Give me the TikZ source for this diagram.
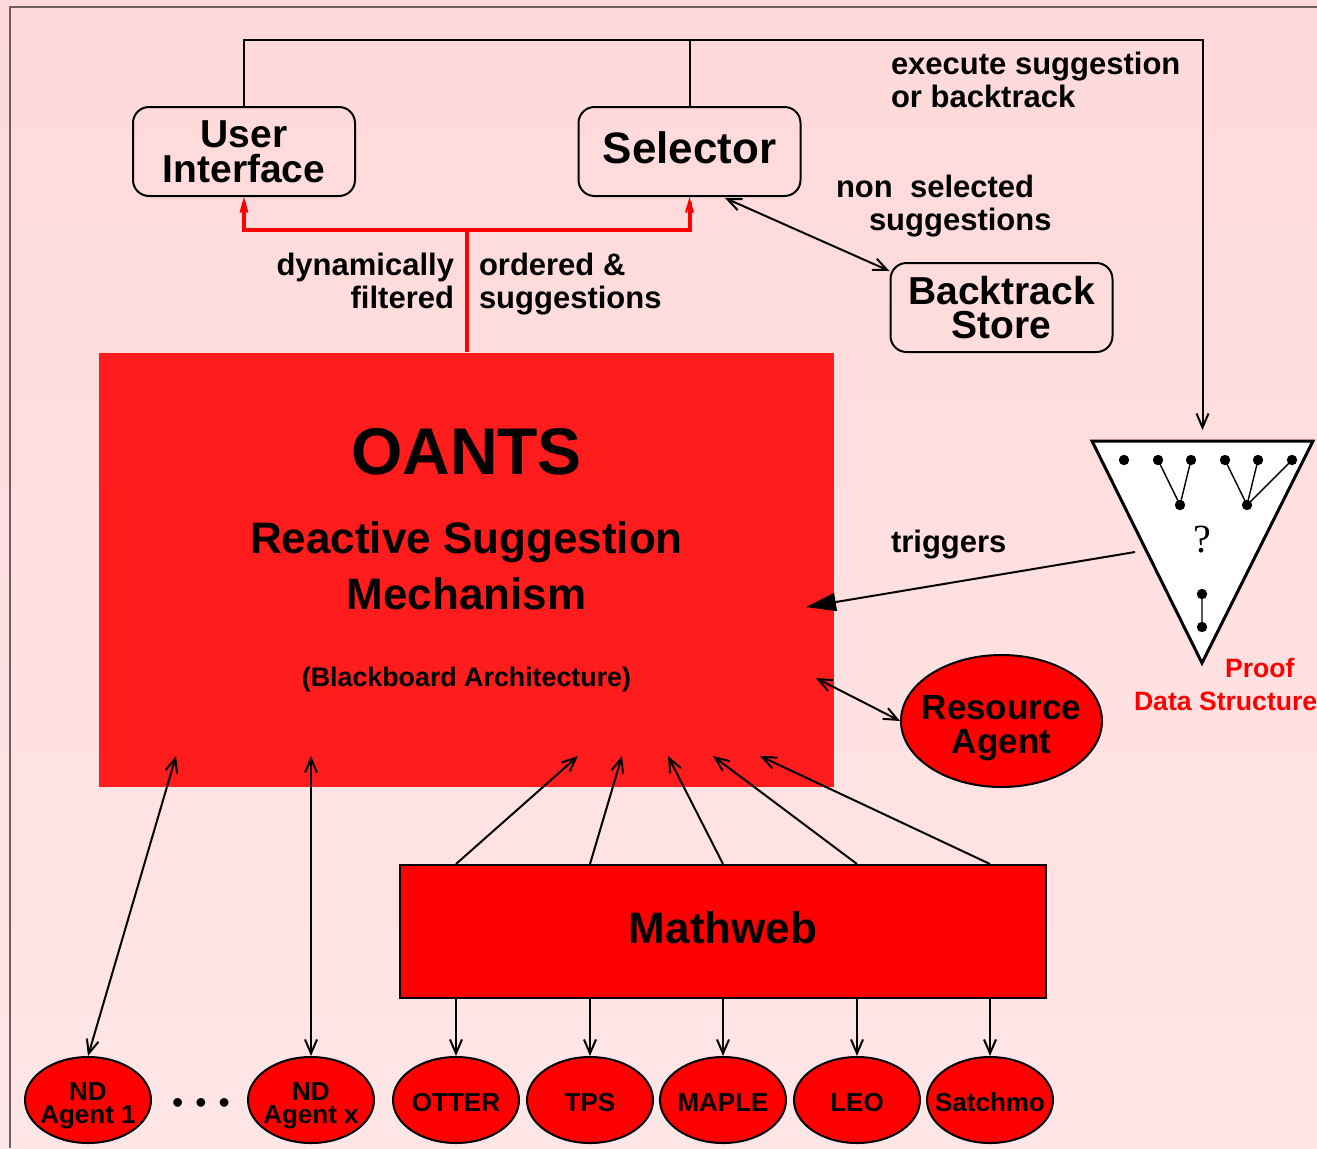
\documentclass[tikz,border=0pt]{standalone}
\usepackage{fontspec}
\setmainfont{Liberation Sans}
\newfontfamily\qmark{Liberation Serif}
\usetikzlibrary{arrows.meta,shapes.geometric,calc}

\definecolor{bgtop}{RGB}{255,217,217}
\definecolor{bgbot}{RGB}{255,230,230}
\definecolor{oantsred}{RGB}{255,28,28}
\definecolor{framegray}{RGB}{110,95,95}

\begin{document}
\begin{tikzpicture}[x=0.5pt, y=-0.5pt, font=\bfseries, line width=1pt,
  >={Straight Barb[length=7pt,width=6pt]},
  ubox/.style={draw, rounded corners=8pt, minimum width=111pt, minimum height=44.5pt, inner sep=0pt, align=center},
  agent/.style={draw, ellipse, fill=red, minimum width=63pt, minimum height=43pt, inner xsep=-6pt, inner ysep=0pt, align=center,
    font=\fontsize{13pt}{11.5pt}\selectfont\bfseries},
  prover/.style={agent, text height=11.8pt, text depth=0pt},
  lbl/.style={inner sep=0pt, font=\fontsize{15.5pt}{16.5pt}\selectfont\bfseries},
  redline/.style={red, line width=2pt, -{Straight Barb[length=6pt,width=3.5pt,line width=1pt]}}]
% background and frame
\shade[top color=bgtop, bottom color=bgbot] (0,0) rectangle (1317,1148);
\useasboundingbox (0,0) rectangle (1317,1148);
\draw[framegray] (10,1148) -- (10,7) -- (1317,7);
% interface, selector, backtrack store
\node[ubox, font=\fontsize{19.5pt}{17.5pt}\selectfont\bfseries] (ui) at (244,151.5) {User\\Interface};
\node[ubox, text depth=3.5pt, font=\fontsize{22pt}{22pt}\selectfont\bfseries] (sel) at (689.5,151.5) {Selector};
\node[ubox, font=\fontsize{19.5pt}{17pt}\selectfont\bfseries] (bts) at (1001.5,307.5) {Backtrack\\Store};
% the suggestion mechanism
\node[fill=oantsred, minimum width=367.5pt, minimum height=217pt, inner sep=0pt] (oants) at (466.5,570) {};
\node[font=\fontsize{33pt}{33pt}\selectfont\bfseries] (title) at ($(oants)+(0,-118)$) {OANTS};
\node[align=center, font=\fontsize{22pt}{28pt}\selectfont\bfseries] (rsm) at ($(oants)+(0,-4)$) {Reactive Suggestion\\Mechanism};
\node[font=\fontsize{13.4pt}{14pt}\selectfont\bfseries] (bba) at ($(oants)+(0,110)$) {(Blackboard Architecture)};
% mathweb and resource agent
\node[draw, fill=red, minimum width=323pt, minimum height=66.5pt, text depth=3.5pt, font=\fontsize{22pt}{22pt}\selectfont\bfseries] (mweb) at (723,931.5) {Mathweb};
\node[draw, ellipse, fill=red, minimum width=100.5pt, minimum height=66pt, inner xsep=-5pt, inner ysep=0pt, align=center,
  font=\fontsize{17.5pt}{17pt}\selectfont\bfseries] (res) at (1001.5,721) {\\[2.5pt]Resource\\Agent};
% agents and provers
\node[agent] (nd1) at (88,1100) {\\[2.8pt]ND\\Agent 1};
\node[agent] (ndx) at (311,1100) {\\[2.8pt]ND\\Agent x};
\node[font=\fontsize{16pt}{16pt}\selectfont] (dots) at (201,1106) {•\kern6pt•\kern6pt•};
\foreach \nm/\lab/\x in {otter/OTTER/456, tps/TPS/590, maple/MAPLE/723, leo/LEO/857, satchmo/Satchmo/990}
  \node[prover] (\nm) at (\x,1100) {\lab};
% proof data structure
\coordinate (pl) at (1092,441);
\coordinate (pr) at (1313,441);
\coordinate (pb) at (1202,663);
\coordinate (pds) at ($(pl)!0.5!(pr)$);
\filldraw[fill=white, line width=1.5pt] (pl) -- (pr) -- (pb) -- cycle;
\draw[line width=0.7pt] (1158,460) -- (1180,505) -- (1191,460)
  (1225,460) -- (1247,505) -- (1258,460) (1247,505) -- (1292,460)
  (1202,594) -- (1202,627);
\foreach \p in {(1124,460),(1158,460),(1191,460),(1225,460),(1258,460),(1292,460),(1180,505),(1247,505),(1202,594),(1202,627)}
  \fill \p circle (2.6pt);
\node[font=\qmark\fontsize{20pt}{20pt}\selectfont] (qm) at (1202,540) {?};
\node[red, align=left, anchor=west, inner sep=0pt, font=\fontsize{13.3pt}{16.5pt}\selectfont\bfseries] (pdslbl) at (1133,684) {\hspace*{45.5pt}Proof\\Data Structure};
% labels
\node[lbl, align=left, anchor=west] (exec) at (890,80) {execute suggestion\\or backtrack};
\node[lbl, align=left, anchor=west] (nonsel) at (835,206) {non\ \ selected\\\hspace*{16.5pt}suggestions};
\node[lbl, align=right, anchor=east] (dynf) at (455,281) {dynamically\\filtered};
\node[lbl, align=left, anchor=west] (ordsug) at (478,284) {ordered \&\\suggestions};
\node[lbl, anchor=west] (trig) at (890,545) {triggers};
% connectors
\draw[->] (ui.north) |- ($(sel.north)+(0,-66)$) -| ($(pds)+(0,-11)$);
\draw (sel.north) -- ++(0,-66);
\draw[red, line width=2pt] (oants.north) -- ++(0,-122) coordinate (fork);
\draw[redline] (fork) -| (ui.south);
\draw[redline] (fork) -| (sel.south);
\draw[<->] ($(sel.south)+(35.5,1)$) -- ($(bts.north west)+(0,9)$);
\draw[-{Triangle[length=15pt,width=9pt]}] ($(pl)!0.5!(pb)+(-12,0)$) -- ($(oants.east)+(-29,37)$);
\draw[<->] ($(oants.east)+(-19,108)$) -- (res.west);
\draw[<->] ($(oants.south)+(-290.5,-32)$) -- (nd1.north);
\draw[<->] ($(oants.south)+(-155.5,-32)$) -- (ndx.north);
\foreach \nm/\dx in {otter/111.5, tps/155.5, maple/201.5, leo/246.5, satchmo/293.5} {
  \draw[->] (\nm |- mweb.north) -- ($(oants.south)+(\dx,-32)$);
  \draw[->] (\nm |- mweb.south) -- (\nm.north);
}
\end{tikzpicture}
\end{document}
